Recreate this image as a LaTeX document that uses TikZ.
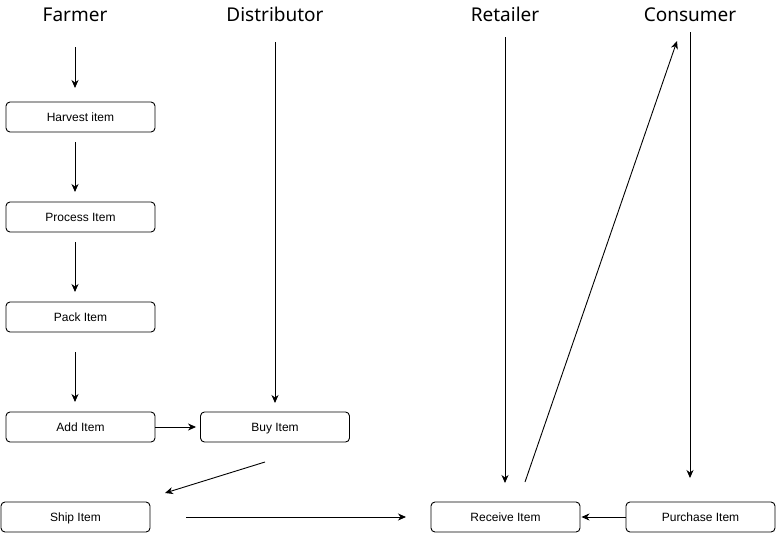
\documentclass[tikz,border=0pt]{standalone}
\usepackage{fontspec}
\setmainfont{Liberation Sans}
\newfontfamily\headfont{Noto Sans}
\usetikzlibrary{arrows.meta}
\begin{document}
\begin{tikzpicture}[x=1pt,y=-1pt,
  box/.style={draw, line width=0.9pt, rounded corners=4pt, minimum width=149pt, minimum height=30pt, inner sep=0pt, text height=8.6pt, text depth=0pt, font=\fontsize{12}{14}\selectfont},
  head/.style={font=\headfont\fontsize{19}{22}\selectfont, inner sep=0pt, anchor=base},
  arr/.style={draw, line width=0.9pt, -{Stealth[length=8pt,width=7pt,inset=2.5pt]}}]
\useasboundingbox (0,0) rectangle (776,533);
% headers
\node[head] (hf) at (75,21) {Farmer};
\node[head] (hd) at (275,21) {Distributor};
\node[head] (hr) at (505,21) {Retailer};
\node[head] (hc) at (690,21) {Consumer};
% boxes
\node[box] (harvest) at (80.5,117) {Harvest item};
\node[box] (process) at (80.5,217) {Process Item};
\node[box] (pack) at (80.5,317) {Pack Item};
\node[box] (add) at (80.5,427) {Add Item};
\node[box] (buy) at (275,427) {Buy Item};
\node[box] (ship) at (75.5,517) {Ship Item};
\node[box] (receive) at (505.5,517) {Receive Item};
\node[box] (purchase) at (700.5,517) {Purchase Item};
% free ends
\coordinate (f1s) at (75,47);  \coordinate (f1e) at (75,88);
\coordinate (f2s) at (75,142); \coordinate (f2e) at (75,192);
\coordinate (f3s) at (75,242); \coordinate (f3e) at (75,292);
\coordinate (f4s) at (75,352); \coordinate (f4e) at (75,402);
\coordinate (ds) at (275,42);  \coordinate (de) at (275,403);
\coordinate (bs) at (265,462); \coordinate (be) at (165,493);
\coordinate (ss) at (186,517); \coordinate (se) at (406,517);
\coordinate (rs) at (505,37);  \coordinate (re) at (505,483);
\coordinate (us) at (525,482); \coordinate (ue) at (677,41);
\coordinate (cs) at (690,32);  \coordinate (ce) at (690,478);
% connectors
\draw[arr] (f1s) -- (f1e);
\draw[arr] (f2s) -- (f2e);
\draw[arr] (f3s) -- (f3e);
\draw[arr] (f4s) -- (f4e);
\draw[arr] (add.east) -- ([xshift=-4pt]buy.west);
\draw[arr] (ds) -- (de);
\draw[arr] (bs) -- (be);
\draw[arr] (ss) -- (se);
\draw[arr] (rs) -- (re);
\draw[arr] (us) -- (ue);
\draw[arr] (cs) -- (ce);
\draw[arr] (purchase.west) -- ([xshift=1pt]receive.east);
\end{tikzpicture}
\end{document}
